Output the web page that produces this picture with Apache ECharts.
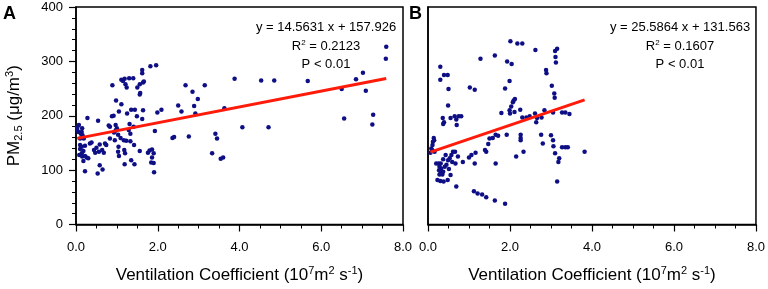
<!DOCTYPE html>
<html>
<head>
<meta charset="utf-8">
<script src="https://cdn.jsdelivr.net/npm/echarts@6/dist/echarts.min.js"></script>
<style>
  html, body { margin: 0; padding: 0; background: #fff; }
  #chart { width: 768px; height: 289px; }
</style>
</head>
<body>
<div id="chart"></div>
<script>
// panel A: ventilation coefficient vs PM2.5
var aX = [1.82, 1.96, 1.62, 1.62, 1.11, 1.15, 1.19, 1.21, 1.24, 1.30, 1.40, 1.50, 1.56, 1.57, 1.56, 1.64, 1.66, 0.89,
  0.98, 1.11, 0.88, 0.92, 1.05, 1.25, 1.35, 1.44, 1.64, 1.49, 1.62, 1.31, 1.41, 0.80, 0.83, 0.97, 1.00, 0.97, 0.93,
  1.03, 0.83, 0.95, 1.09, 1.29, 1.33, 1.17, 1.23, 1.33, 1.42, 1.18, 1.20, 1.56, 1.76, 1.80, 1.86, 1.90, 1.04, 1.05,
  1.03, 1.35, 1.43, 1.19, 1.84, 1.86, 1.90, 1.91, 1.93, 0.54, 0.28, 0.50, 0.56, 0.64, 0.71, 0.58, 0.65, 0.53, 0.22,
  0.15, 0.07, 0.03, 0.14, 0.16, 0.10, 0.19, 0.10, 0.14, 0.22, 0.10, 0.18, 0.14, 0.08, 0.15, 0.22, 0.26, 0.18, 0.34,
  0.38, 0.44, 0.47, 0.58, 0.68, 0.30, 0.06, 0.03, 0.12, 0.74,
  1.99, 2.09, 2.50, 2.58, 2.68, 2.85, 2.89, 2.92, 2.98, 3.15, 2.36, 2.40, 2.76, 3.33, 3.41, 3.45, 3.54, 3.60, 3.63,
  3.88, 4.07, 4.53, 4.71, 4.85, 5.67, 6.50, 6.56, 6.85, 7.02, 7.09, 7.27, 7.25, 7.59, 7.58];
var aY = [291, 293, 284, 278, 266, 264, 268, 258, 252, 269, 269, 252, 258, 242, 239, 261, 263, 256,
  228, 221, 199, 200, 208, 204, 211, 211, 210, 199, 194, 185, 180, 182, 180, 183, 177, 173, 169,
  165, 158, 155, 159, 174, 167, 155, 154, 153, 146, 137, 131, 135, 132, 136, 138, 131, 143, 126,
  134, 118, 111, 111, 114, 123, 113, 96, 172, 191, 196, 141, 134, 137, 149, 109, 101, 94, 98,
  177, 183, 174, 170, 164, 158, 158, 146, 143, 145, 139, 135, 131, 128, 125, 126, 123, 117, 149,
  151, 137, 132, 147, 132, 122, 170, 179, 167, 146,
  206, 211, 219, 208, 256, 244, 218, 204, 231, 256, 159, 161, 162, 131, 167, 158, 121, 123, 214,
  268, 179, 265, 179, 265, 264, 249, 195, 267, 279, 246, 202, 184, 327, 305];

// panel B
var bX = [2.01, 2.18, 2.30, 2.62, 3.10, 3.15, 3.11, 3.12, 1.63, 1.28, 1.93, 2.04, 0.30, 2.88, 2.89, 0.30, 0.39, 0.48,
  1.99, 0.50, 1.02, 1.14, 1.88, 3.02, 3.08, 3.09, 0.49, 0.36, 0.39, 0.37, 0.55, 0.65, 0.69, 0.75, 0.81, 0.70,
  1.99, 2.03, 2.07, 2.09, 2.12, 2.00, 1.79, 2.11, 2.25, 2.30, 2.40, 2.48, 2.61, 2.66, 2.77, 2.84, 3.05, 3.27, 3.35,
  3.45, 2.64, 1.92, 1.65, 1.71, 1.58, 1.50, 1.47, 1.42, 1.39, 1.16, 1.06, 1.00, 0.85, 1.14, 1.65, 2.15, 2.33, 2.26,
  2.26, 2.26, 2.80, 2.76, 3.00, 3.05, 3.06, 3.10, 3.20, 3.27, 3.35, 3.41, 3.82, 3.15, 3.18,
  0.06, 0.08, 0.11, 0.12, 0.14, 0.15, 0.10, 0.16, 0.20, 0.26, 0.31, 0.28, 0.32, 0.27, 0.31, 0.37, 0.35, 0.28, 0.23,
  0.30, 0.38, 0.48, 0.41, 0.45, 0.49, 0.53, 0.57, 0.61, 0.66, 0.73, 0.67, 0.59, 0.51, 0.55, 0.43, 0.37, 0.69,
  1.12, 1.21, 1.32, 1.42, 1.63, 1.88];
var bY = [337, 333, 333, 321, 319, 323, 308, 298, 311, 305, 300, 295, 290, 284, 278, 266, 275, 275,
  264, 249, 252, 248, 250, 255, 241, 233, 219, 196, 188, 185, 196, 199, 193, 199, 199, 183,
  210, 217, 225, 228, 231, 204, 205, 207, 211, 197, 197, 199, 204, 196, 197, 210, 206, 206, 206,
  203, 188, 165, 165, 163, 159, 158, 148, 134, 137, 132, 128, 123, 115, 112, 112, 125, 134, 165,
  159, 155, 149, 165, 164, 155, 144, 131, 122, 142, 142, 142, 134, 79, 115,
  132, 140, 146, 152, 159, 155, 137, 134, 112, 112, 112, 106, 103, 100, 97, 97, 92, 92, 82,
  80, 79, 82, 106, 110, 118, 122, 128, 134, 134, 125, 112, 115, 102, 91, 128, 120, 70,
  61, 57, 55, 50, 44, 38];

// fits: slope, intercept
var aFit = [14.5631, 157.926];
var bFit = [25.5864, 131.563];
var aStats = ['y = 14.5631 x + 157.926', '0.2123', 'P < 0.01'];
var bStats = ['y = 25.5864 x + 131.563', '0.1607', 'P < 0.01'];
var xTickMin = 0, xTickMax = 8, xTickStep = 2;
var yTickMin = 0, yTickMax = 400, yTickStep = 100;

var FONT = 'Liberation Sans';

function pairs(xs, ys) {
  return xs.map(function (x, i) { return [x, ys[i]]; });
}
function fitLine(xs, fit) {
  var lo = Math.min.apply(null, xs), hi = Math.max.apply(null, xs);
  return [[lo, fit[0] * lo + fit[1]], [hi, fit[0] * hi + fit[1]]];
}

var xName = '{n|Ventilation Coefficient (10}{s|7}{n|m}{s|2}{n| s}{s|-1}{n|)}';
var nameRich = {
  n: { fontSize: 17, fontFamily: FONT, color: '#000', lineHeight: 20 },
  s: { fontSize: 11, fontFamily: FONT, color: '#000', lineHeight: 11, verticalAlign: 'top' },
  b: { fontSize: 11, fontFamily: FONT, color: '#000', lineHeight: 11, verticalAlign: 'bottom' }
};

function xAxisFor(idx) {
  return {
    gridIndex: idx, type: 'value', min: xTickMin, max: xTickMax, interval: xTickStep,
    name: xName, nameLocation: 'middle', nameGap: 41,
    nameTextStyle: { rich: nameRich },
    axisLine: { lineStyle: { color: '#000', width: 1.5 } },
    axisTick: { length: 7, lineStyle: { color: '#000', width: 1.2 } },
    minorTick: { show: true, splitNumber: 4, length: 4, lineStyle: { color: '#000', width: 1 } },
    axisLabel: { color: '#000', fontSize: 13, fontFamily: FONT, margin: 16,
      formatter: function (v) { return v.toFixed(1); } },
    splitLine: { show: false }
  };
}
function yAxisFor(idx, labels) {
  return {
    gridIndex: idx, type: 'value', min: yTickMin, max: yTickMax, interval: yTickStep,
    name: labels ? '{n|PM}{b|2.5}{n| (μg/m}{s|3}{n|)}' : '', nameLocation: 'middle', nameGap: 52,
    nameTextStyle: { rich: nameRich },
    axisLine: { lineStyle: { color: '#000', width: 1.5 } },
    axisTick: { show: labels, length: 7, lineStyle: { color: '#000', width: 1.2 } },
    minorTick: { show: labels, splitNumber: 5, length: 4, lineStyle: { color: '#000', width: 1 } },
    axisLabel: { show: labels, color: '#000', fontSize: 13, fontFamily: FONT, margin: 13 },
    splitLine: { show: false }
  };
}

function statsText(stats, cx) {
  var rich = {
    n: { fontSize: 13, fontFamily: FONT, fill: '#000', lineHeight: 15 },
    s: { fontSize: 8, fontFamily: FONT, fill: '#000', lineHeight: 8, verticalAlign: 'top' }
  };
  var lines = ['{n|' + stats[0] + '}', '{n|R}{s|2}{n| = ' + stats[1] + '}', '{n|' + stats[2] + '}'];
  var ys = [27, 46, 64];
  return lines.map(function (t, i) {
    return { type: 'text', x: cx, y: ys[i], style: { text: t, rich: rich, align: 'center', verticalAlign: 'middle' } };
  });
}

var scatterStyle = { color: '#0e0e85', opacity: 1 };
var lineStyle = { color: '#ff1a0a', width: 3 };

var chart = echarts.init(document.getElementById('chart'), null, { renderer: 'canvas' });
chart.setOption({
  backgroundColor: '#fff',
  animation: false,
  grid: [
    { left: 76, top: 7, width: 327, height: 220, show: true, borderColor: '#000', borderWidth: 1.5 },
    { left: 428, top: 7, width: 329, height: 220, show: true, borderColor: '#000', borderWidth: 1.5 }
  ],
  xAxis: [xAxisFor(0), xAxisFor(1)],
  yAxis: [yAxisFor(0, true), yAxisFor(1, false)],
  series: [
    { type: 'scatter', xAxisIndex: 0, yAxisIndex: 0, symbolSize: 4.5, itemStyle: scatterStyle, data: pairs(aX, aY) },
    { type: 'line', xAxisIndex: 0, yAxisIndex: 0, showSymbol: false, lineStyle: lineStyle, data: fitLine(aX, aFit) },
    { type: 'scatter', xAxisIndex: 1, yAxisIndex: 1, symbolSize: 4.5, itemStyle: scatterStyle, data: pairs(bX, bY) },
    { type: 'line', xAxisIndex: 1, yAxisIndex: 1, showSymbol: false, lineStyle: lineStyle, data: fitLine(bX, bFit) }
  ],
  graphic: [
    { type: 'text', left: 3, top: 5, style: { text: 'A', fontSize: 18, fontWeight: 'bold', fontFamily: FONT, fill: '#000' } },
    { type: 'text', left: 409, top: 5, style: { text: 'B', fontSize: 18, fontWeight: 'bold', fontFamily: FONT, fill: '#000' } }
  ].concat(statsText(aStats, 326), statsText(bStats, 680))
});
</script>
</body>
</html>
